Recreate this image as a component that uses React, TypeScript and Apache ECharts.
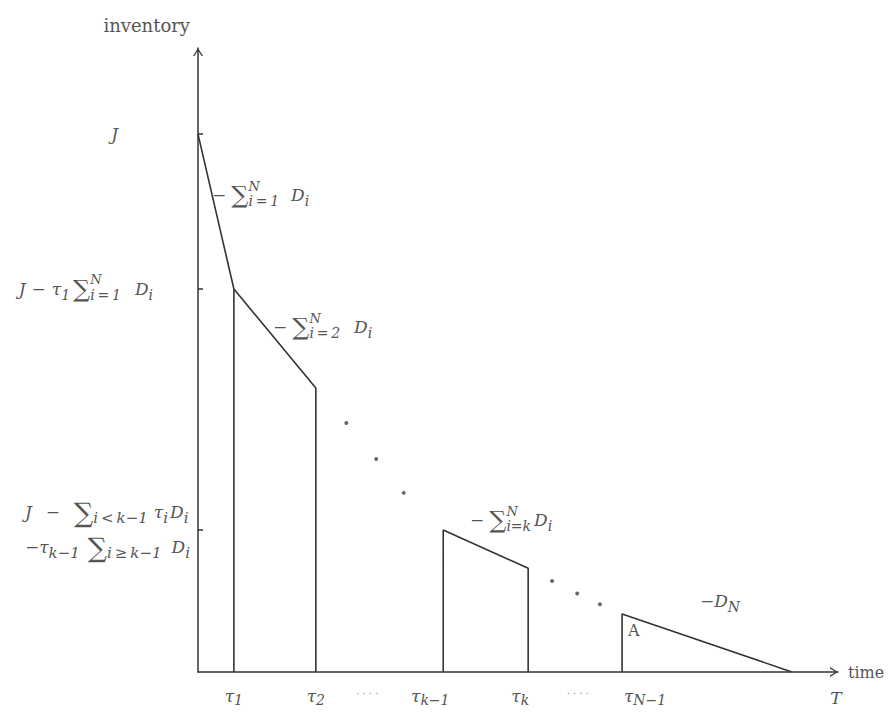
import React, { useEffect, useRef } from "react";
import * as echarts from "echarts";

// ---- values (axis units) ----
const J = 10.0;
const tau1 = 0.6;
const tau2 = 1.97;
const tauKm1 = 4.1;
const tauK = 5.52;
const tauNm1 = 7.09;
const T = 9.93;

const level1 = 7.12;
const level2 = 5.28;
const levelKm1 = 2.64;
const levelK = 1.93;
const levelNm1 = 1.08;

const segmentFirst = [
  [0, J],
  [tau1, level1],
  [tau2, level2],
  [tau2, 0],
];
const riserTau1 = [
  [tau1, level1],
  [tau1, 0],
];
const segmentK = [
  [tauKm1, 0],
  [tauKm1, levelKm1],
  [tauK, levelK],
  [tauK, 0],
];
const segmentLast = [
  [tauNm1, 0],
  [tauNm1, levelNm1],
  [T, 0],
];

const dotsX = [2.48, 2.98, 3.44, 5.92, 6.34, 6.72];
const dotsY = [4.63, 3.96, 3.33, 1.69, 1.46, 1.26];

const TS = "\u2009"; // thin space
const ellipsis1 = 2.83;
const ellipsis2 = 6.35;
const xTickValues = [tau1, tau2, ellipsis1, tauKm1, tauK, ellipsis2, tauNm1, T];
const xTickLabels = [
  "{mi|τ}{xs|1}",
  "{mi|τ}{xs|2}",
  "{dots|. . . .}",
  "{mi|τ}{xs|k−1}{s26| }",
  "{mi|τ}{xs|k}{s16| }",
  "{dots|. . . .}",
  "{s46| }{mi|τ}{xs|N−1}",
  "{s88| }{miT|T}",
];

const yTickValues = [J, level1, levelKm1];
const yTickLabels = [
  "{miJ|J}",
  `{mi|J}{s6| }{rm|−}{s6| }{mi|τ}{sub|1}{s3| }{sum|∑}{sup|N}{sub|i${TS}=${TS}1}{s14| }{mi|D}{subL1|i}`,
  `{mi|J}{s14| }{rm|−}{s14| }{sumT|∑}{sb|i${TS}<${TS}k−1}{s6| }{mi|τ}{sb|i}{s2| }{mi|D}{sb|i}\n` +
    `{rm|−}{mi|τ}{sb|k−1}{s8| }{sumT|∑}{sb|i${TS}≥${TS}k−1}{s10| }{mi|D}{sb|i}`,
];

const annotations = [
  { x: 212, y: 195, text: `{rm|−}{s5| }{sum|∑}{sup|N}{sub|i${TS}=${TS}1}{s12| }{mi|D}{sub|i}` },
  { x: 273, y: 327, text: `{rm|−}{s5| }{sum|∑}{sup|N}{sub|i${TS}=${TS}2}{s14| }{mi|D}{sub|i}` },
  { x: 470, y: 520, text: "{rm|−}{s5| }{sum|∑}{sup|N}{sub|i=k}{s3| }{mi|D}{sub|i}" },
  { x: 700, y: 601, text: "{rm|−}{mi|D}{sub|N}" },
  { x: 628, y: 630, text: "{A|A}" },
];

const FONT = "DejaVu Serif";
const TEXT = "#555";
const INK = "#333";

const base = { fontFamily: FONT, color: TEXT, fill: TEXT, align: "left" };
const rich: Record<string, any> = {
  mi: { ...base, fontStyle: "italic", fontSize: 17 },
  miT: { ...base, fontStyle: "italic", fontSize: 17, padding: [4, 0, 0, 0] },
  miJ: { ...base, fontStyle: "italic", fontSize: 17, padding: [0, 72, 0, 0] },
  rm: { ...base, fontSize: 17 },
  sum: { ...base, fontSize: 24 },
  sumT: { ...base, fontSize: 27, lineHeight: 35 },
  sub: { ...base, fontStyle: "italic", fontSize: 14, padding: [12, 0, 0, 0] },
  sb: { ...base, fontStyle: "italic", fontSize: 15, padding: [12, 0, 0, 0] },
  subL1: { ...base, fontStyle: "italic", fontSize: 14, padding: [12, 37, 0, 0] },
  sup: { ...base, fontStyle: "italic", fontSize: 13, padding: [0, 0, 18, 0], width: 0 },
  xs: { ...base, fontStyle: "italic", fontSize: 14, padding: [8, 0, 0, 0] },
  dots: { ...base, fontSize: 10, color: "#888", fill: "#888" },
  A: { ...base, fontSize: 16 },
};
[2, 3, 4, 5, 6, 8, 10, 12, 14, 16, 18, 26, 46, 88].forEach((n) => {
  rich["s" + n] = { ...base, fontSize: 10, width: n };
});

function pick(values: number[], labels: string[], v: number) {
  for (let i = 0; i < values.length; i++) {
    if (Math.abs(values[i] - v) < 1e-6) return labels[i];
  }
  return "";
}

const arrow = "path://M5,0 L10,8 L8.6,8 L5,2.2 L1.4,8 L0,8 Z";

function lineSeries(data: number[][]) {
  return {
    type: "line",
    data,
    symbol: "none",
    lineStyle: { color: INK, width: 1.6 },
    z: 3,
  };
}

export default function App() {
  const ref = useRef<HTMLDivElement>(null);

  useEffect(() => {
    if (!ref.current) return;
    const chart = echarts.init(ref.current, null, { renderer: "svg" });
    const option: any = {
      animation: false,
      backgroundColor: "#fff",
      grid: { left: 198, right: 50, top: 48, bottom: 42, containLabel: false, outerBoundsMode: "none" },
      xAxis: {
        type: "value",
        min: 0,
        max: 10.7,
        name: "time",
        nameLocation: "end",
        nameGap: 10,
        nameTextStyle: { fontFamily: FONT, fontSize: 16, color: TEXT, verticalAlign: "middle", align: "left" },
        axisLine: {
          show: true,
          symbol: ["none", arrow],
          symbolSize: [10, 9],
          symbolOffset: [0, -4],
          lineStyle: { color: INK, width: 1.5 },
        },
        axisTick: { show: false },
        splitLine: { show: false },
        axisLabel: {
          show: true,
          customValues: xTickValues,
          margin: 13,
          formatter: (v: number) => pick(xTickValues, xTickLabels, v),
          rich,
        },
      },
      yAxis: {
        type: "value",
        min: 0,
        max: 11.6,
        name: "inventory",
        nameLocation: "end",
        nameGap: 14,
        nameTextStyle: {
          fontFamily: FONT,
          fontSize: 18,
          color: TEXT,
          align: "right",
          verticalAlign: "bottom",
          padding: [0, 8, 0, 0],
        },
        axisLine: {
          show: true,
          symbol: ["none", arrow],
          symbolSize: [10, 9],
          symbolOffset: [0, -4],
          lineStyle: { color: INK, width: 1.5 },
        },
        axisTick: {
          show: true,
          inside: true,
          length: 5,
          customValues: yTickValues,
          lineStyle: { color: INK, width: 1.5 },
        },
        splitLine: { show: false },
        axisLabel: {
          show: true,
          customValues: yTickValues,
          margin: 8,
          align: "right",
          formatter: (v: number) => pick(yTickValues, yTickLabels, v),
          rich,
        },
      },
      series: [
        lineSeries(segmentFirst),
        lineSeries(riserTau1),
        lineSeries(segmentK),
        lineSeries(segmentLast),
        {
          type: "scatter",
          data: dotsX.map((x, i) => [x, dotsY[i]]),
          symbol: "circle",
          symbolSize: 4,
          itemStyle: { color: "#444" },
          z: 4,
        },
      ],
      graphic: annotations.map((a) => ({
        type: "text",
        x: a.x,
        y: a.y,
        silent: true,
        style: {
          text: a.text,
          rich,
          align: "left",
          verticalAlign: "middle",
          fill: TEXT,
          font: `16px "${FONT}"`,
        },
      })),
    };
    chart.setOption(option);
    return () => chart.dispose();
  }, []);

  return (
    <div
      ref={ref}
      style={{ position: "fixed", left: 0, top: 0, width: 888, height: 714, background: "#fff" }}
    />
  );
}
